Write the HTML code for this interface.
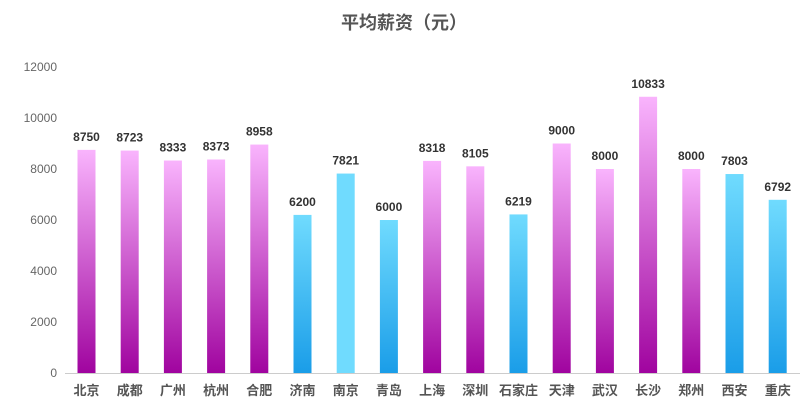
<!DOCTYPE html>
<html><head><meta charset="utf-8">
<style>
body{margin:0;background:#fff;}
svg{display:block;font-family:"Liberation Sans","Noto Sans CJK SC",sans-serif;}
</style></head>
<body>
<svg id="chart" width="808" height="410">
<defs>
<linearGradient id="gp" x1="0" y1="0" x2="0" y2="1"><stop offset="0" stop-color="#f9b4fd"/><stop offset="1" stop-color="#a0049f"/></linearGradient>
<linearGradient id="gb" x1="0" y1="0" x2="0" y2="1"><stop offset="0" stop-color="#70dbfe"/><stop offset="1" stop-color="#1a9de8"/></linearGradient>
</defs>
<text x="404" y="29" text-anchor="middle" font-size="18" font-weight="bold" fill="#555">平均薪资（元）</text>
<g id="axis"></g><g id="bars"></g>
</svg>
<script>
const categories=["北京","成都","广州","杭州","合肥","济南","南京","青岛","上海","深圳","石家庄","天津","武汉","长沙","郑州","西安","重庆"];
const values=[8750,8723,8333,8373,8958,6200,7821,6000,8318,8105,6219,9000,8000,10833,8000,7803,6792];
const colorType=["p","p","p","p","p","b","s","b","p","p","b","p","p","p","p","b","b"];
const yTicks=[0,2000,4000,6000,8000,10000,12000];
const NS="http://www.w3.org/2000/svg";
const y0=373,yTop=67,yMax=12000,x0=65,step=43.2,bw=18;
function yScale(v){return y0-(v/yMax)*(y0-yTop);}
function xCenter(i){return 86.5+i*step;}
function mk(tag,attrs,parent){const e=document.createElementNS(NS,tag);for(const k in attrs)e.setAttribute(k,attrs[k]);parent.appendChild(e);return e;}
const ax=document.getElementById('axis'),bars=document.getElementById('bars');
yTicks.forEach(t=>{const e=mk('text',{x:57,y:yScale(t)+4,'text-anchor':'end','font-size':12,fill:'#666'},ax);e.textContent=t;

});
const al=mk('line',{x1:x0,x2:800,y1:y0+0.5,y2:y0+0.5,stroke:'#ccc'},ax);


categories.forEach((c,i)=>{
const cx=xCenter(i),yt=yScale(values[i]);
const fill=colorType[i]==="p"?"url(#gp)":colorType[i]==="b"?"url(#gb)":"#70dbfe";
const r=mk('rect',{x:cx-bw/2,y:yt,width:bw,height:y0-yt,fill:fill},bars);


const l=mk('text',{x:cx,y:yt-9,'text-anchor':'middle','font-size':12,'font-weight':'bold',fill:'#333'},bars);l.textContent=values[i];


const xl=mk('text',{x:cx,y:395,'text-anchor':'middle','font-size':13,'font-weight':'bold',fill:'#555'},bars);xl.textContent=c;


});
</script>
</body></html>
